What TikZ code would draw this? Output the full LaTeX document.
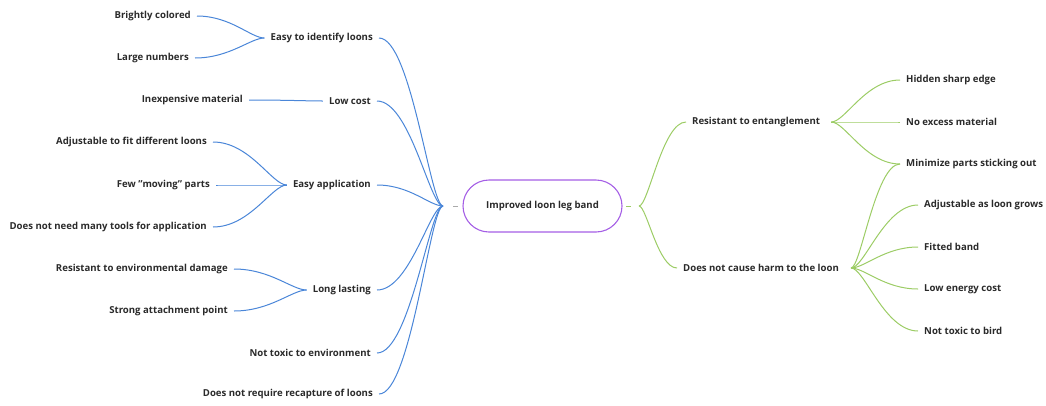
\documentclass[tikz,border=0pt]{standalone}
\usepackage{fontspec}
\setmainfont{Open Sans}
\usetikzlibrary{calc}
\definecolor{lblue}{HTML}{4A86D8}
\definecolor{lgreen}{HTML}{9CCC65}
\definecolor{lpurple}{HTML}{A45EE5}
\definecolor{txt}{HTML}{2A2A2A}
\definecolor{dgray}{HTML}{AAAAAA}
\newcommand\lnk[3]{\draw[#1] let \p1=(#2), \p2=(#3) in (\p1) .. controls ({0.5*\x1+0.5*\x2},\y1) and ({0.2*\x1+0.8*\x2},\y2) .. (\p2);}
\begin{document}
\begin{tikzpicture}[x=1pt,y=-1pt,
  lbl/.style={font=\fontsize{9.6}{11}\selectfont\bfseries, text=txt, inner xsep=6pt, inner ysep=2pt},
  lft/.style={lbl, anchor=east},
  rgt/.style={lbl, anchor=west},
  bl/.style={draw=lblue, line width=1pt},
  gr/.style={draw=lgreen, line width=1pt},
  rootbox/.style={draw=lpurple, line width=1.1pt, rounded corners=26pt, minimum width=159pt, minimum height=52pt, font=\fontsize{9.6}{11}\selectfont\bfseries, text=txt}]
\useasboundingbox (0,0) rectangle (1046,405);
% root
\node[rootbox] (root) at (542.5,206) {Improved loon leg band};
\coordinate (lh) at (443,206);
\coordinate (rh) at (639,206);
\coordinate (ld1) at (453,206); \coordinate (ld2) at (458,206);
\coordinate (rd1) at (626,206); \coordinate (rd2) at (631,206);
\draw[dgray, line width=0.9pt] (ld1) -- (ld2);
\draw[lgreen, line width=0.9pt] (rd1) -- (rd2);
% left mid nodes
\node[lft] (e1) at (379,38) {Easy to identify loons};
\node[lft] (e2) at (377,101) {Low cost};
\node[lft] (e3) at (377,185) {Easy application};
\node[lft] (e4) at (377,290) {Long lasting};
\node[lft] (e5) at (377,353) {Not toxic to environment};
\node[lft] (e6) at (379,394) {Does not require recapture of loons};
% left children
\node[lft] (c11) at (197,16) {Brightly colored};
\node[lft] (c12) at (195,58) {Large numbers};
\node[lft] (c21) at (249,100) {Inexpensive material};
\node[lft] (c31) at (213,142) {Adjustable to fit different loons};
\node[lft] (c32) at (216,185) {Few \symbol{34}moving\symbol{34} parts};
\node[lft] (c33) at (213,227) {Does not need many tools for application};
\node[lft] (c41) at (234,269) {Resistant to environmental damage};
\node[lft] (c42) at (234,311) {Strong attachment point};
% right mid nodes
\node[rgt] (r1) at (686,122) {Resistant to entanglement};
\node[rgt] (r2) at (677,268) {Does not cause harm to the loon};
% right children
\node[rgt] (s11) at (900,80) {Hidden sharp edge};
\node[rgt] (s12) at (900,122) {No excess material};
\node[rgt] (s13) at (900,164) {Minimize parts sticking out};
\node[rgt] (s21) at (918,205) {Adjustable as loon grows};
\node[rgt] (s22) at (918,247) {Fitted band};
\node[rgt] (s23) at (918,289) {Low energy cost};
\node[rgt] (s24) at (918,331) {Not toxic to bird};
% left connectors
\foreach \nm in {e1,e2,e3,e4,e5,e6} {\lnk{bl}{\nm.east}{lh}}
\lnk{bl}{c11.east}{e1.west}
\lnk{bl}{c12.east}{e1.west}
\lnk{bl}{c21.east}{e2.west}
\lnk{bl}{c31.east}{e3.west}
\lnk{bl}{c32.east}{e3.west}
\lnk{bl}{c33.east}{e3.west}
\lnk{bl}{c41.east}{e4.west}
\lnk{bl}{c42.east}{e4.west}
% right connectors
\lnk{gr}{r1.west}{rh}
\lnk{gr}{r2.west}{rh}
\lnk{gr}{s11.west}{[xshift=5pt]r1.east}
\lnk{gr}{s12.west}{[xshift=5pt]r1.east}
\lnk{gr}{s13.west}{[xshift=5pt]r1.east}
\lnk{gr}{s13.west}{[xshift=6pt]r2.east}
\lnk{gr}{s21.west}{[xshift=6pt]r2.east}
\lnk{gr}{s22.west}{[xshift=6pt]r2.east}
\lnk{gr}{s23.west}{[xshift=6pt]r2.east}
\lnk{gr}{s24.west}{[xshift=6pt]r2.east}
\end{tikzpicture}
\end{document}
